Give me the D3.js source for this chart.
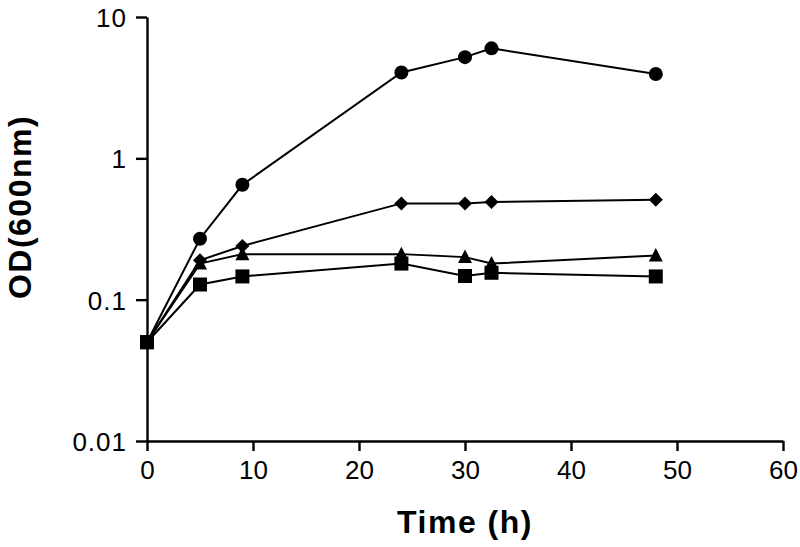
<!DOCTYPE html>
<html>
<head>
<meta charset="utf-8">
<script src="https://cdn.jsdelivr.net/npm/d3@7"></script>
<style>
  html, body { margin: 0; padding: 0; background: #fff; }
  svg { display: block; }
  text { font-family: "Liberation Sans", Arial, sans-serif; fill: #000; }
</style>
</head>
<body>
<svg id="chart" width="800" height="547"></svg>
<script>
// ---- data ----
const time = [0, 5, 9, 24, 30, 32.5, 48];
const circles   = [0.05, 0.27, 0.65, 4.05, 5.2, 6.0, 3.95];
const diamonds  = [0.05, 0.19, 0.24, 0.48, 0.48, 0.49, 0.51];
const triangles = [0.05, 0.18, 0.21, 0.21, 0.20, 0.18, 0.205];
const squares   = [0.05, 0.128, 0.146, 0.18, 0.147, 0.155, 0.146];
const xTicks = [0, 10, 20, 30, 40, 50, 60];
const yTicks = [0.01, 0.1, 1, 10];
const yTickLabels = ["0.01", "0.1", "1", "10"];
const xTitle = "Time (h)";
const yTitle = "OD(600nm)";

const series = [
  { name: "triangle", values: triangles },
  { name: "square", values: squares },
  { name: "diamond", values: diamonds },
  { name: "circle", values: circles }
];

// ---- layout ----
const svg = d3.select("#chart");
const x = d3.scaleLinear().domain([0, 60]).range([147, 783]);
const y = d3.scaleLog().domain([0.01, 10]).range([441, 17]);

const g = svg.append("g");

// x axis
const xAxis = g.append("g").attr("transform", `translate(0,${y(0.01)})`)
  .call(d3.axisBottom(x).tickValues(xTicks).tickSize(10).tickSizeOuter(0).tickPadding(10)
    .tickFormat(d3.format("d")));
xAxis.select(".domain").attr("stroke", "#000").attr("stroke-width", 2.4);
xAxis.selectAll(".tick line").attr("stroke", "#000").attr("stroke-width", 2.4);
xAxis.selectAll(".tick text").attr("font-size", 26).attr("fill", "#000")
  .attr("font-family", "Liberation Sans, Arial, sans-serif").attr("dy", "0.71em");

// y axis
const yAxis = g.append("g").attr("transform", `translate(${x(0)},0)`)
  .call(d3.axisLeft(y).tickValues(yTicks).tickSize(11).tickSizeOuter(0).tickPadding(9)
    .tickFormat((d, i) => yTickLabels[i]));
yAxis.select(".domain").attr("stroke", "#000").attr("stroke-width", 2.4);
yAxis.selectAll(".tick line").attr("stroke", "#000").attr("stroke-width", 2.4);
yAxis.selectAll(".tick text").attr("font-size", 26).attr("fill", "#000")
  .attr("font-family", "Liberation Sans, Arial, sans-serif").attr("dy", "0.36em")
  .attr("letter-spacing", 1);

// titles
g.append("text")
  .attr("x", 465).attr("y", 533)
  .attr("text-anchor", "middle")
  .attr("font-size", 32).attr("font-weight", "bold")
  .attr("letter-spacing", 1.5)
  .text(xTitle);

g.append("text")
  .attr("transform", `translate(31,207) rotate(-90)`)
  .attr("text-anchor", "middle")
  .attr("font-size", 32).attr("font-weight", "bold")
  .attr("letter-spacing", 1.5)
  .text(yTitle);

// lines
const line = d3.line().x((d, i) => x(time[i])).y(d => y(d));
series.forEach(s => {
  g.append("path")
    .datum(s.values)
    .attr("fill", "none")
    .attr("stroke", "#000")
    .attr("stroke-width", 2)
    .attr("d", line);
});

// marker shapes
function markerPath(type) {
  const p = d3.path();
  if (type === "circle") {
    p.arc(0, 0, 7, 0, 2 * Math.PI);
  } else if (type === "square") {
    p.rect(-7, -7, 14, 14);
  } else if (type === "diamond") {
    p.moveTo(0, -7); p.lineTo(7, 0); p.lineTo(0, 7); p.lineTo(-7, 0); p.closePath();
  } else if (type === "triangle") {
    p.moveTo(0, -7.5); p.lineTo(7, 6); p.lineTo(-7, 6); p.closePath();
  }
  return p.toString();
}

series.forEach(s => {
  g.append("g").selectAll("path")
    .data(s.values)
    .join("path")
    .attr("transform", (d, i) => `translate(${x(time[i])},${y(d)})`)
    .attr("d", markerPath(s.name))
    .attr("fill", "#000");
});

// the shared starting point is shown as a square
g.append("path")
  .attr("transform", `translate(${x(time[0])},${y(squares[0])})`)
  .attr("d", markerPath("square"))
  .attr("fill", "#000");
</script>
</body>
</html>
